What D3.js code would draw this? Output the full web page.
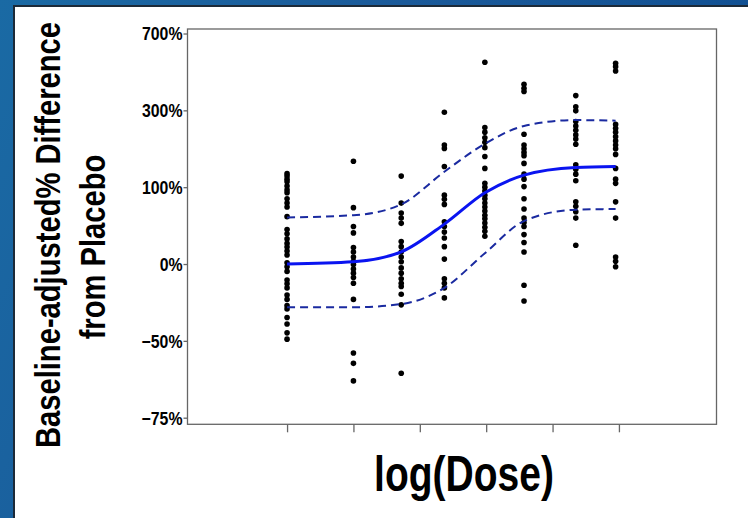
<!DOCTYPE html>
<html>
<head>
<meta charset="utf-8">
<script src="https://cdn.jsdelivr.net/npm/d3@7"></script>
<style>
  body { margin: 0; background: #125a96; }
  svg { display: block; }
  .lbl { font-family: "Liberation Sans", Arial, sans-serif; font-weight: bold; fill: #000; }
</style>
</head>
<body>
<div id="chart"></div>
<script>
// log(dose) position of each dose group (axis ticks are at 0..5)
var doseLevels = [0, 1.0, 1.72, 2.37, 2.98, 3.57, 4.35, 4.95];

// baseline-adjusted % difference from placebo, one array per dose group
var group1 = [127, 122, 116, 111, 103, 96, 91, 81, 74, 68, 54, 37, 32, 26, 21, 17, 13, 9, 1.5, -2, -6, -13, -16, -19, -24, -27, -31, -33, -38, -41.5, -46, -49];
var group2 = [154, 67, 41, 33, 16.5, 12, 7, 3, 0, -4, -7.5, -11, -15.5, -27, -55, -59, -65];
var group3 = [122, 74, 59, 52, 45, 23, 17.5, 12, 7, 2.6, -3, -7.5, -12, -15.5, -18, -23.5, -30.5, -62.5];
var group4 = [295, 194, 185, 142, 87, 80, 72, 47, 41, 34, 27, 17.5, 5, -12, -15.5, -19, -26];
var group5 = [520, 244, 230, 214, 201, 187, 165, 138, 108, 101, 94, 87, 81, 74, 68, 62, 56, 51, 45.5, 40, 35, 29];
var group6 = [408, 390, 376, 224, 194, 184, 175, 167, 149, 126, 116, 102, 81, 65, 52, 46, 41, 31, 22, 12, -17, -28];
var group7 = [359, 315, 300, 263, 249, 236, 222, 210, 196, 146, 136, 126, 113, 76, 69, 61, 52, 19];
var group8 = [514, 496, 473, 254, 242, 230, 217, 205, 194, 184, 170, 138, 116, 108, 76, 52, 7, 3, -2];

// fitted dose-response curve and its band, at each dose group
var fitMedian = [0.5, 2.6, 12, 44, 91, 124, 140, 142];
var fitUpper  = [53, 56, 72, 131, 197, 249, 268, 266];
var fitLower  = [-32, -32, -30, -19, 10.7, 48, 64, 65];

var yTickValues = [700, 300, 100, 0, -50, -75];
var yTickLabels = ["700%", "300%", "100%", "0%", "\u221250%", "\u221275%"];
var xTickValues = [0, 1, 2, 3, 4, 5];

var W = 748, H = 518;
var plot = {left: 187.5, right: 716.5, top: 29, bottom: 424.3};

var svg = d3.select("#chart").append("svg")
    .attr("width", W)
    .attr("height", H);

// slide background
var grad = svg.append("defs").append("linearGradient")
    .attr("id", "bg").attr("x1", 0).attr("y1", 0).attr("x2", 1).attr("y2", 0.3);
grad.append("stop").attr("offset", "0%").attr("stop-color", "#1a6aa4");
grad.append("stop").attr("offset", "50%").attr("stop-color", "#1a5a9a");
grad.append("stop").attr("offset", "100%").attr("stop-color", "#0f4f92");
svg.append("rect").attr("width", W).attr("height", H).attr("fill", "url(#bg)");

// white panel
svg.append("rect")
    .attr("x", 14).attr("y", 6)
    .attr("width", W).attr("height", H)
    .attr("fill", "#fff")
    .attr("stroke", "#1c2a38")
    .attr("stroke-width", 2);

var xScale = d3.scaleLinear().domain([-1.5, 6.47]).range([plot.left, plot.right]);
// response axis is on a log(1 + difference) scale
var ratioScale = d3.scaleLog().base(2).domain([0.2366, 8.37]).range([plot.bottom, plot.top]);
function yScale(v) { return ratioScale(1 + v / 100); }

// frame
svg.append("rect")
    .attr("x", plot.left).attr("y", plot.top)
    .attr("width", plot.right - plot.left)
    .attr("height", plot.bottom - plot.top)
    .attr("fill", "none")
    .attr("stroke", "#666")
    .attr("stroke-width", 1.3);

// y axis
var yAxis = svg.append("g").attr("transform", "translate(" + plot.left + ",0)");
yAxis.selectAll("line").data(yTickValues).enter().append("line")
    .attr("x1", -4).attr("x2", 0)
    .attr("y1", function(d) { return yScale(d); })
    .attr("y2", function(d) { return yScale(d); })
    .attr("stroke", "#666").attr("stroke-width", 1.3);
yAxis.selectAll("text").data(yTickValues).enter().append("text")
    .attr("class", "lbl")
    .attr("transform", function(d) { return "translate(-5," + yScale(d) + ") scale(0.88,1)"; })
    .attr("dy", "0.36em")
    .attr("text-anchor", "end")
    .style("font-size", "18px")
    .text(function(d, i) { return yTickLabels[i]; });

// x axis (ticks only)
var xAxis = d3.axisBottom(xScale).tickValues(xTickValues).tickFormat("").tickSize(8).tickSizeOuter(0);
var xg = svg.append("g")
    .attr("transform", "translate(0," + plot.bottom + ")")
    .call(xAxis);
xg.select(".domain").remove();
xg.selectAll("line").attr("stroke", "#666").attr("stroke-width", 1.3);

// points
var groups = [group1, group2, group3, group4, group5, group6, group7, group8];
var points = [];
groups.forEach(function(g, i) {
  g.forEach(function(v) { points.push({dose: doseLevels[i], value: v}); });
});
svg.append("g").selectAll("circle").data(points).enter().append("circle")
    .attr("cx", function(d) { return xScale(d.dose); })
    .attr("cy", function(d) { return yScale(d.value); })
    .attr("r", 2.8)
    .attr("fill", "#000");

// fitted curves
function curveData(vals) {
  return vals.map(function(v, i) { return [doseLevels[i], v]; });
}
var line = d3.line()
    .x(function(d) { return xScale(d[0]); })
    .y(function(d) { return yScale(d[1]); })
    .curve(d3.curveMonotoneX);

svg.append("path").datum(curveData(fitUpper))
    .attr("d", line).attr("fill", "none")
    .attr("stroke", "#1a2aa0").attr("stroke-width", 2)
    .attr("stroke-dasharray", "8,5");
svg.append("path").datum(curveData(fitLower))
    .attr("d", line).attr("fill", "none")
    .attr("stroke", "#1a2aa0").attr("stroke-width", 2)
    .attr("stroke-dasharray", "8,5");
svg.append("path").datum(curveData(fitMedian))
    .attr("d", line).attr("fill", "none")
    .attr("stroke", "#0a14f0").attr("stroke-width", 3);

// axis titles (narrowed to look like a condensed face)
svg.append("text")
    .attr("class", "lbl")
    .attr("transform", "translate(60,235) rotate(-90) scale(0.81,1)")
    .attr("text-anchor", "middle")
    .style("font-size", "36px")
    .text("Baseline-adjusted% Difference");
svg.append("text")
    .attr("class", "lbl")
    .attr("transform", "translate(105,247) rotate(-90) scale(0.81,1)")
    .attr("text-anchor", "middle")
    .style("font-size", "36px")
    .text("from Placebo");
svg.append("text")
    .attr("class", "lbl")
    .attr("transform", "translate(464,491) scale(0.78,1)")
    .attr("text-anchor", "middle")
    .style("font-size", "50px")
    .text("log(Dose)");
</script>
</body>
</html>
